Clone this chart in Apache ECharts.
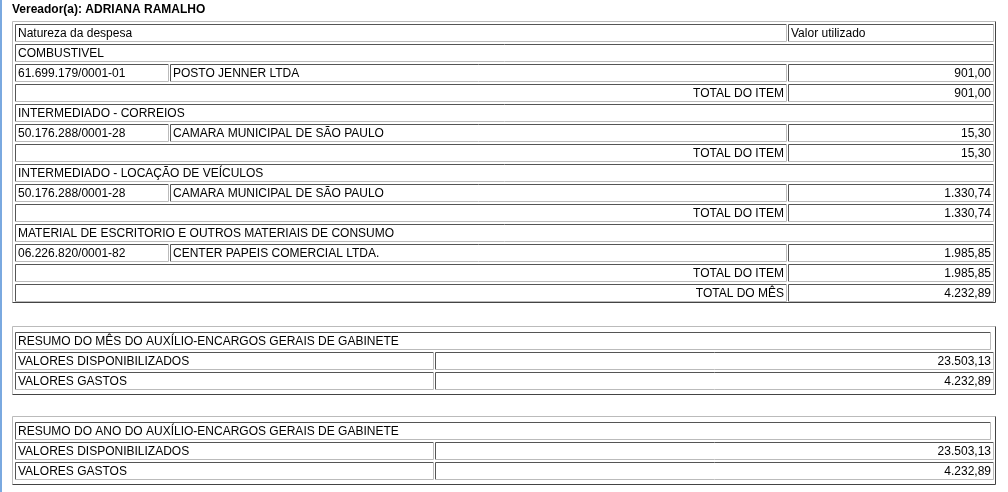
<!DOCTYPE html>
<html><head><meta charset="utf-8">
<script src="https://cdn.jsdelivr.net/npm/echarts@6/dist/echarts.min.js"></script>
<style>html,body{margin:0;padding:0;background:#fff}#c{width:1008px;height:492px}</style>
</head><body><div id="c"></div>
<script>
const title = 'Vereador(a): ADRIANA RAMALHO';
const headers = ['Natureza da despesa', 'Valor utilizado'];
const groups = ['COMBUSTIVEL', 'INTERMEDIADO - CORREIOS', 'INTERMEDIADO - LOCAÇÃO DE VEÍCULOS', 'MATERIAL DE ESCRITORIO E OUTROS MATERIAIS DE CONSUMO'];
const cnpjs = ['61.699.179/0001-01', '50.176.288/0001-28', '50.176.288/0001-28', '06.226.820/0001-82'];
const suppliers = ['POSTO JENNER LTDA', 'CAMARA MUNICIPAL DE SÃO PAULO', 'CAMARA MUNICIPAL DE SÃO PAULO', 'CENTER PAPEIS COMERCIAL LTDA.'];
const values = ['901,00', '15,30', '1.330,74', '1.985,85'];
const itemLabel = 'TOTAL DO ITEM';
const monthLabel = 'TOTAL DO MÊS';
const monthTotal = '4.232,89';
const summaryTitles = ['RESUMO DO MÊS DO AUXÍLIO-ENCARGOS GERAIS DE GABINETE', 'RESUMO DO ANO DO AUXÍLIO-ENCARGOS GERAIS DE GABINETE'];
const summaryLabels = ['VALORES DISPONIBILIZADOS', 'VALORES GASTOS'];
const summaryValues = [['23.503,13', '4.232,89'], ['23.503,13', '4.232,89']];

const els = [];
const F = '12px "Liberation Sans", Arial, sans-serif';
function line(x1,y1,x2,y2,c){els.push({type:'line',shape:{x1,y1,x2,y2},style:{stroke:c,lineWidth:1}});}
function box(x,y,w,h,inset){
  const a = inset ? '#555' : '#bbb', b = inset ? '#bbb' : '#444';
  line(x+.5,y+.5,x+w-.5,y+.5,a); line(x+.5,y+.5,x+.5,y+h-.5,a);
  line(x+.5,y+h-.5,x+w-.5,y+h-.5,b); line(x+w-.5,y+.5,x+w-.5,y+h-.5,b);
}
function cell(x,y,w,h,t,align){
  box(x,y,w,h,true);
  if(t!==undefined) els.push({type:'text',style:{text:t,x: align==='right'? x+w-3 : x+3, y:y+h/2+1, font:F, fill:'#000', textAlign: align||'left', textVerticalAlign:'middle'}});
}
els.push({type:'rect',shape:{x:0,y:0,width:2,height:492},style:{fill:'#7aa9e0'}});
els.push({type:'text',style:{text:title,x:12,y:10,font:'bold 12px "Liberation Sans", Arial, sans-serif',fill:'#000',textVerticalAlign:'middle'}});

// main table
box(12,21,984,282,false);
const rowH=18, step=20;
let y=24;
cell(15,y,772,rowH,headers[0]); cell(788,y,206,rowH,headers[1]); y+=step;
for(let i=0;i<groups.length;i++){
  cell(15,y,979,rowH,groups[i]); y+=step;
  cell(15,y,154,rowH,cnpjs[i]); cell(170,y,617,rowH,suppliers[i]); cell(788,y,206,rowH,values[i],'right'); y+=step;
  cell(15,y,772,rowH,itemLabel,'right'); cell(788,y,206,rowH,values[i],'right'); y+=step;
}
cell(15,y,772,rowH,monthLabel,'right'); cell(788,y,206,rowH,monthTotal,'right');

// summaries
[326,416].forEach((ty,k)=>{
  box(12,ty,984,69,false);
  let yy=ty+6;
  cell(15,yy,976,rowH,summaryTitles[k]); yy+=step;
  for(let j=0;j<summaryLabels.length;j++){
    cell(15,yy,419,rowH,summaryLabels[j]); cell(435,yy,559,rowH,summaryValues[k][j],'right'); yy+=step;
  }
});

const chart = echarts.init(document.getElementById('c'),null,{renderer:'canvas'});
chart.setOption({animation:false,graphic:{elements:els}});
</script></body></html>
